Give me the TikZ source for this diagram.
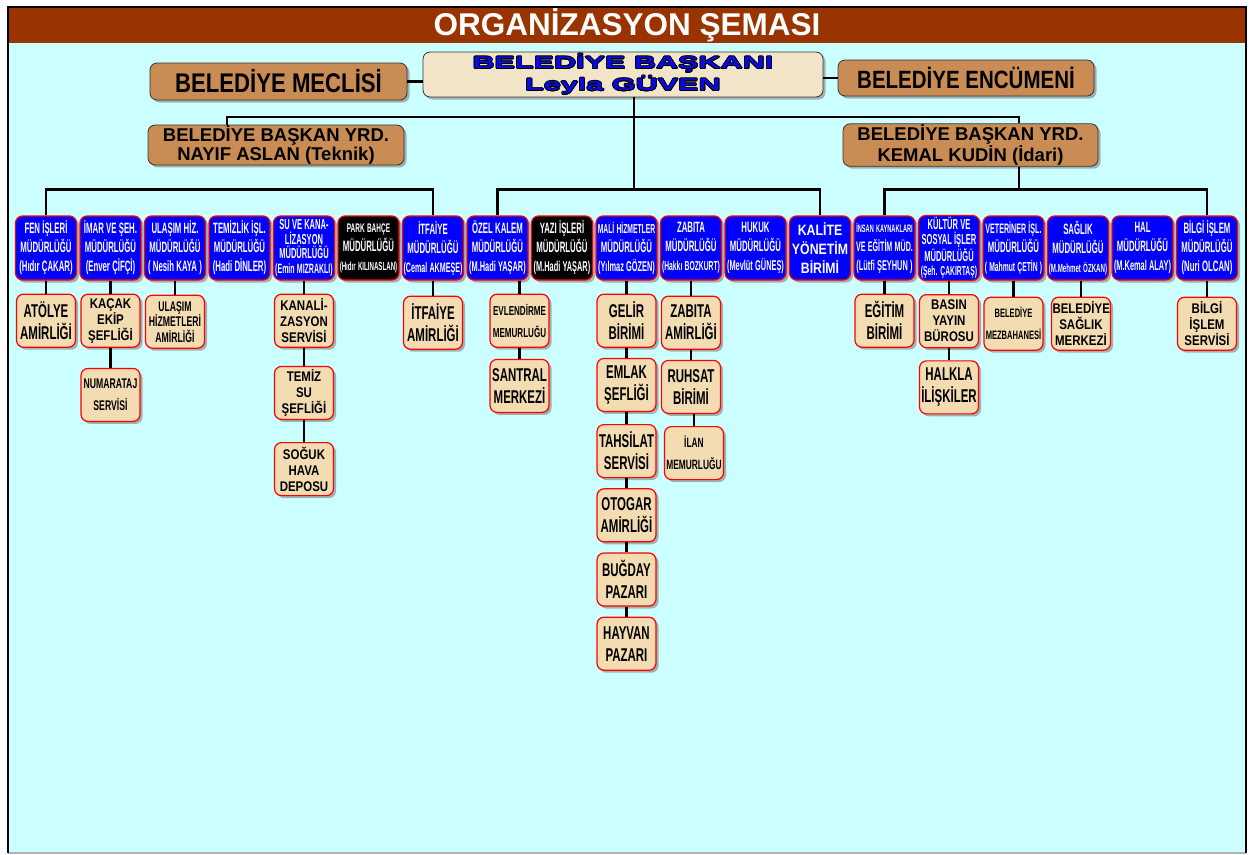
\documentclass[tikz,border=0pt]{standalone}
\usepackage{fontspec}
\setmainfont{Liberation Sans}
\newfontfamily\condfont[FakeStretch=0.52]{Liberation Sans}
\newfontfamily\midfont[FakeStretch=0.62]{Liberation Sans}
\newfontfamily\semifont[FakeStretch=0.82]{Liberation Sans}
\newfontfamily\widefont[FakeStretch=1.8]{Liberation Sans}
\usepackage{contour}
\contourlength{0.7pt}
\usetikzlibrary{positioning}
\usetikzlibrary{shadows}

\definecolor{bgcyan}{RGB}{204,255,255}
\definecolor{titlebrown}{RGB}{153,51,0}
\definecolor{wood}{RGB}{201,140,84}
\definecolor{lightwood}{RGB}{242,228,200}
\definecolor{paper}{RGB}{243,220,178}
\definecolor{mudblue}{RGB}{0,0,255}
\definecolor{chiefblue}{RGB}{10,10,220}

\newcommand{\fs}[2]{{\fontsize{#1}{#1}\selectfont #2}}
\newcommand{\cond}[2]{\condfont\bfseries\fontsize{#1}{#2}\selectfont}
\newcommand{\midf}[2]{\midfont\bfseries\fontsize{#1}{#2}\selectfont}

\tikzset{
    boxnode/.style = {align=center, inner ysep=2pt, inner xsep=1pt, rounded corners=7pt,
        drop shadow={shadow xshift=2.5pt, shadow yshift=-2.5pt, fill=black!50, opacity=0.6}},
    tight/.style = {execute at begin node={\spaceskip=0.15em\xspaceskip=0.2em\relax}},
    wood_node/.style = {boxnode, inner sep=1pt, draw=black!80, fill=wood, line width=0.8pt, text=black},
    chief_node/.style = {boxnode, inner sep=1pt, draw=black!80, fill=lightwood, line width=0.8pt, text=chiefblue,
        minimum width=400pt, minimum height=45pt, font=\widefont\bfseries\fontsize{17}{22}\selectfont},
    blue_node/.style = {boxnode, tight, draw=red, fill=mudblue, text=white, line width=1.2pt, text width=59pt,
        minimum height=64pt, font=\cond{15}{19}},
    blue4_node/.style = {blue_node, font=\cond{14.5}{14.5}},
    black_node/.style = {blue_node, fill=black},
    paper_node/.style = {boxnode, tight, draw=red, fill=paper, text=black, line width=1.2pt, text width=57pt,
        minimum height=53pt, font=\midf{18.5}{22}},
    paper3_node/.style = {paper_node, font=\semifont\bfseries\fontsize{14}{16}\selectfont},
    link/.style = {draw=black, line width=2.8pt}
}

\begin{document}
\begin{tikzpicture}[x=1pt, y=-1pt]
\useasboundingbox (0,0) rectangle (1249,854);

% frame and title bar
\fill[bgcyan] (8,43) rectangle (1246,853);
\fill[titlebrown] (8,7) rectangle (1246,43);
\draw[black!30, line width=1.5pt] (8,853) -- (1246,853);
\draw[line width=2pt] (8,853) -- (8,7) -- (1246,7) -- (1246,853);
\node[text=white, font=\bfseries\fontsize{31.5}{31.5}\selectfont] (title) at (627,25) {ORGANİZASYON ŞEMASI};

% top level
\node[chief_node] (baskan) at (623,74.5) {\contour{black}{BELEDİYE BAŞKANI}\\\contour{black}{Leyla GÜVEN}};
\node[wood_node, minimum width=257pt, minimum height=37pt, font=\semifont\bfseries\fontsize{27}{27}\selectfont]
    (meclis) at (278.5,81.5) {BELEDİYE MECLİSİ};
\node[wood_node, minimum width=256pt, minimum height=36pt, font=\semifont\bfseries\fontsize{25}{25}\selectfont]
    (encumen) at (966,78) {BELEDİYE ENCÜMENİ};
\node[wood_node, minimum width=256pt, minimum height=36pt, font=\bfseries\fontsize{18.5}{17}\selectfont]
    (nayif) at (276,145) {BELEDİYE BAŞKAN YRD.\\NAYIF ASLAN (Teknik)};
\node[wood_node, minimum width=255pt, minimum height=36pt, font=\bfseries\fontsize{18.5}{17}\selectfont]
    (kemal) at (970.5,145) {BELEDİYE BAŞKAN YRD.\\KEMAL KUDİN (İdari)};

% mudurlukler
\node[blue_node] (fen) at (46,248) {FEN İŞLERİ\\MÜDÜRLÜĞÜ\\(Hıdır ÇAKAR)};
\node[blue_node, right=2.3pt of fen] (imar) {İMAR VE ŞEH.\\MÜDÜRLÜĞÜ\\(Enver ÇİFÇİ)};
\node[blue_node, right=2.3pt of imar] (ulasim) {ULAŞIM HİZ.\\MÜDÜRLÜĞÜ\\( Nesih KAYA )};
\node[blue_node, right=2.3pt of ulasim] (temizlik) {TEMİZLİK İŞL.\\MÜDÜRLÜĞÜ\\(Hadi DİNLER)};
\node[blue4_node, right=2.3pt of temizlik] (su) {SU VE KANA-\\LİZASYON\\MÜDÜRLÜĞÜ\\\fs{13.5}{(Emin MIZRAKLI)}};
\node[black_node, right=2.3pt of su] (park) {\fs{12.5}{PARK BAHÇE}\\MÜDÜRLÜĞÜ\\\fs{11.8}{(Hıdır KILINASLAN)}};
\node[blue_node, right=2.3pt of park] (itfaiye) {İTFAİYE\\MÜDÜRLÜĞÜ\\\fs{13.7}{(Cemal AKMEŞE)}};
\node[blue_node, right=2.3pt of itfaiye] (ozel) {ÖZEL KALEM\\MÜDÜRLÜĞÜ\\\fs{14.2}{(M.Hadi YAŞAR)}};
\node[black_node, right=2.3pt of ozel] (yazi) {YAZI İŞLERİ\\MÜDÜRLÜĞÜ\\\fs{14.2}{(M.Hadi YAŞAR)}};
\node[blue_node, right=2.3pt of yazi] (mali) {\fs{13}{MALİ HİZMETLER}\\MÜDÜRLÜĞÜ\\\fs{14.2}{(Yılmaz GÖZEN)}};
\node[blue_node, right=2.3pt of mali] (zabita) {ZABITA\\MÜDÜRLÜĞÜ\\\fs{13}{(Hakkı BOZKURT)}};
\node[blue_node, right=2.3pt of zabita] (hukuk) {HUKUK\\MÜDÜRLÜĞÜ\\\fs{14.2}{(Mevlüt GÜNEŞ)}};
\node[blue_node, right=2.3pt of hukuk, font=\semifont\bfseries\fontsize{15}{19}\selectfont] (kalite) {KALİTE\\YÖNETİM\\BİRİMİ};
\node[blue_node, right=2.3pt of kalite] (insan) {\fs{10.8}{İNSAN KAYNAKLARI}\\\fs{13.7}{VE EĞİTİM MÜD.}\\\fs{14.2}{(Lütfi ŞEYHUN )}};
\node[blue4_node, right=2.3pt of insan] (kultur) {KÜLTÜR VE\\SOSYAL İŞLER\\MÜDÜRLÜĞÜ\\\fs{13}{(Şeh. ÇAKIRTAŞ)}};
\node[blue_node, right=2.3pt of kultur] (veteriner) {\fs{13.7}{VETERİNER İŞL.}\\MÜDÜRLÜĞÜ\\\fs{13}{( Mahmut ÇETİN )}};
\node[blue_node, right=2.3pt of veteriner] (saglik) {SAĞLIK\\MÜDÜRLÜĞÜ\\\fs{11.8}{(M.Mehmet ÖZKAN)}};
\node[blue_node, right=2.3pt of saglik] (hal) {HAL\\MÜDÜRLÜĞÜ\\\fs{14.2}{(M.Kemal ALAY)}};
\node[blue_node, right=2.3pt of hal] (bilgi) {BİLGİ İŞLEM\\MÜDÜRLÜĞÜ\\(Nuri OLCAN)};

% birimler
\node[paper_node, below=13pt of fen] (atolye) {ATÖLYE\\AMİRLİĞİ};
\node[paper3_node, below=13pt of imar] (kacak) {KAÇAK\\EKİP\\ŞEFLİĞİ};
\node[paper_node, below=20pt of kacak, font=\midf{14}{22}] (numarataj) {NUMARATAJ\\SERVİSİ};
\node[paper_node, below=14pt of ulasim, font=\midf{14}{15.5}] (ulasimamir) {ULAŞIM\\HİZMETLERİ\\AMİRLİĞİ};
\node[paper3_node, below=13pt of su] (kanal) {KANALİ-\\ZASYON\\SERVİSİ};
\node[paper3_node, below=18pt of kanal] (temizsu) {TEMİZ\\SU\\ŞEFLİĞİ};
\node[paper3_node, below=22pt of temizsu] (soguk) {SOĞUK\\HAVA\\DEPOSU};
\node[paper_node, below=15pt of itfaiye] (itfamir) {İTFAİYE\\AMİRLİĞİ};
\node[paper_node, below=13pt of ozel, xshift=22pt, font=\midf{13}{22}] (evlen) {EVLENDİRME\\MEMURLUĞU};
\node[paper_node, below=11pt of evlen] (santral) {SANTRAL\\MERKEZİ};
\node[paper_node, below=13pt of mali] (gelir) {GELİR\\BİRİMİ};
\node[paper_node, below=10pt of gelir] (emlak) {EMLAK\\ŞEFLİĞİ};
\node[paper_node, below=12pt of emlak] (tahsilat) {TAHSİLAT\\SERVİSİ};
\node[paper_node, below=10pt of tahsilat] (otogar) {OTOGAR\\AMİRLİĞİ};
\node[paper_node, below=10pt of otogar] (bugday) {BUĞDAY\\PAZARI};
\node[paper_node, below=10pt of bugday] (hayvan) {HAYVAN\\PAZARI};
\node[paper_node, below=15pt of zabita] (zabamir) {ZABITA\\AMİRLİĞİ};
\node[paper_node, below=10pt of zabamir] (ruhsat) {RUHSAT\\BİRİMİ};
\node[paper_node, below=12pt of ruhsat, xshift=3pt, font=\midf{13.5}{22}] (ilan) {İLAN\\MEMURLUĞU};
\node[paper_node, below=13pt of insan] (egitim) {EĞİTİM\\BİRİMİ};
\node[paper3_node, below=13pt of kultur] (basin) {BASIN\\YAYIN\\BÜROSU};
\node[paper_node, below=12pt of basin] (halkla) {HALKLA\\İLİŞKİLER};
\node[paper_node, below=16pt of veteriner, font=\midf{12.2}{22}] (mezbaha) {BELEDİYE\\MEZBAHANESİ};
\node[paper3_node, below=16pt of saglik, xshift=3pt] (merkez) {BELEDİYE\\SAĞLIK\\MERKEZİ};
\node[paper3_node, below=16pt of bilgi] (bilgiserv) {BİLGİ\\İŞLEM\\SERVİSİ};

% connectors
\coordinate (lbar) at (227,117);
\coordinate (rbar) at (1019,117);
\coordinate (trunk) at (634,190);
\coordinate (kbar) at (1019,190);
\draw[link] (meclis.east) -- (meclis.east -| baskan.west);
\draw[link] (encumen.west) -- (encumen.west -| baskan.east);
\draw[link] (nayif.north -| lbar) -- (lbar) -- (rbar) -- (kemal.north -| rbar);
\draw[link] (baskan.south -| trunk) -- (trunk);
\draw[link] (kemal.south -| kbar) -- (kbar);
\draw[link] (fen.north) -- ++(0,-26) -| (itfaiye.north);
\draw[link] (ozel.north) -- ++(0,-26) -| (kalite.north);
\draw[link] (insan.north) -- ++(0,-26) -| (bilgi.north);
\foreach \p/\c in {fen/atolye, imar/kacak, kacak/numarataj, ulasim/ulasimamir, su/kanal, kanal/temizsu,
        temizsu/soguk, itfaiye/itfamir, ozel/evlen, evlen/santral, mali/gelir, gelir/emlak,
        emlak/tahsilat, tahsilat/otogar, otogar/bugday, bugday/hayvan, zabita/zabamir,
        zabamir/ruhsat, ruhsat/ilan, insan/egitim, kultur/basin, basin/halkla,
        veteriner/mezbaha, saglik/merkez, bilgi/bilgiserv}
    \draw[link] (\c.north |- \p.south) -- (\c.north);
\end{tikzpicture}
\end{document}
